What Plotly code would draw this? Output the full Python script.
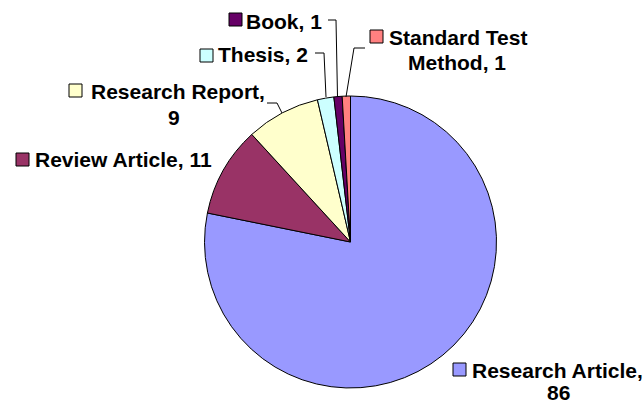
import plotly.graph_objects as go

categories = ["Research Article", "Review Article", "Research Report", "Thesis", "Book", "Standard Test Method"]
values = [86, 11, 9, 2, 1, 1]
colors = ["#9999FF", "#993366", "#FFFFCC", "#CCFFFF", "#660066", "#FF8080"]

W, H = 644, 407

# label layout (pixel positions)
label_lines = {
    "Research Article": (["Research Article,", "86"], [(557, 370), (558, 392)], (453, 363)),
    "Review Article": (["Review Article, 11"], [(123.5, 160)], (16, 153)),
    "Research Report": (["Research Report,", "9"], [(178, 91), (174, 117)], (69, 84)),
    "Thesis": (["Thesis, 2"], [(263, 55)], (200, 49)),
    "Book": (["Book, 1"], [(283.5, 21)], (229, 13)),
    "Standard Test Method": (["Standard Test", "Method, 1"], [(458, 37), (457, 62)], (370, 30)),
}
leaders = [
    [(267, 103), (277, 103), (282, 113)],
    [(315, 53), (324, 53), (326, 97)],
    [(328, 20), (336, 20), (337.5, 97)],
    [(365, 48), (354, 48), (346, 97)],
]

def px(x):
    return x / W

def py(y):
    return 1 - y / H

cx, cy, r = 350.5, 242, 146
fig = go.Figure(go.Pie(
    labels=categories, values=values, sort=False, direction="clockwise", rotation=0,
    marker=dict(colors=colors, line=dict(color="black", width=1)),
    textinfo="none", hoverinfo="label+value",
    domain=dict(x=[px(cx - r), px(cx + r)], y=[py(cy + r), py(cy - r)]),
))

annotations = []
shapes = []
for cat, val, col in zip(categories, values, colors):
    lines, pos, sq = label_lines[cat]
    for t, (x, y) in zip(lines, pos):
        annotations.append(dict(
            x=px(x), y=py(y), xref="paper", yref="paper", xanchor="center", yanchor="middle",
            text="<b>" + t + "</b>", showarrow=False,
            font=dict(family="Liberation Sans, Arial", size=21, color="black"),
        ))
    sx, sy = sq
    shapes.append(dict(type="rect", xref="paper", yref="paper",
                       x0=px(sx), x1=px(sx + 13), y0=py(sy + 13), y1=py(sy),
                       fillcolor=col, line=dict(color="black", width=1)))
for pts in leaders:
    path = "M " + " L ".join(f"{px(x)},{py(y)}" for x, y in pts)
    shapes.append(dict(type="path", xref="paper", yref="paper", path=path,
                       line=dict(color="black", width=1)))

fig.update_layout(
    width=W, height=H, margin=dict(l=0, r=0, t=0, b=0),
    paper_bgcolor="white", plot_bgcolor="white", showlegend=False,
    annotations=annotations, shapes=shapes,
)
fig.write_html("out.html", config={"displayModeBar": False},
               post_script="document.body.style.margin='0';document.body.style.overflow='hidden';")
